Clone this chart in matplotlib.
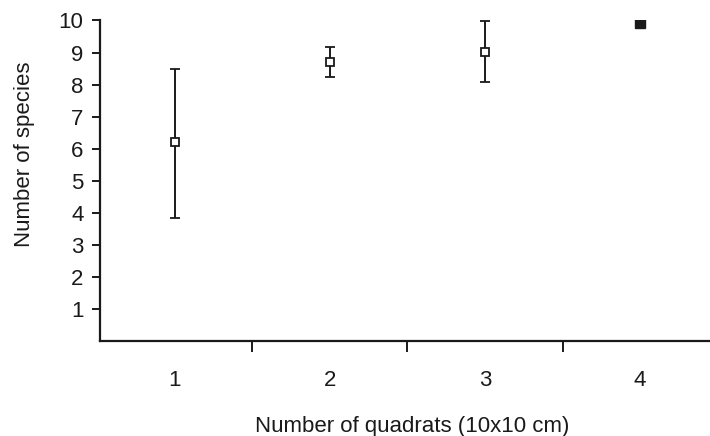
import matplotlib
matplotlib.use("Agg")
import matplotlib.pyplot as plt

# Данные
quadrats = [1, 2, 3, 4]
quadrat_labels = ["1", "2", "3", "4"]
species_mean = [6.2, 8.72, 9.02, 9.92]
species_low = [3.83, 8.24, 8.08, 9.92]
species_high = [8.5, 9.18, 9.98, 9.92]
y_ticks = [1, 2, 3, 4, 5, 6, 7, 8, 9, 10]

plt.rcParams['font.family'] = ['Liberation Sans', 'DejaVu Sans']
ink = '#1a1a1a'

fig = plt.figure(figsize=(7.10, 4.36), dpi=100)
ax = fig.add_axes([0.141, 0.218, 0.859, 0.735])

# Первые три точки - открытые квадраты с усами
for i in range(3):
    x = quadrats[i]
    m = species_mean[i]
    err = [[m - species_low[i]], [species_high[i] - m]]
    ax.errorbar([x], [m], yerr=err, fmt='s', color=ink, ecolor=ink,
                markerfacecolor='white', markeredgecolor=ink, markersize=6,
                markeredgewidth=1.3, elinewidth=1.4, capsize=3.3, capthick=2.9,
                zorder=3)

# Последняя точка - закрашенный квадрат без усов
ax.plot([quadrats[3]], [species_mean[3]], 's', color=ink, markersize=6.5, zorder=3)

ax.set_xlim(0.52, 4.45)
ax.set_ylim(0, 10)

ax.spines['top'].set_visible(False)
ax.spines['right'].set_visible(False)
ax.spines['left'].set_linewidth(1.6)
ax.spines['bottom'].set_linewidth(1.6)
ax.spines['left'].set_color(ink)
ax.spines['bottom'].set_color(ink)

# Подписи по X в точках данных, засечки между ними
ax.set_xticks(quadrats)
ax.set_xticklabels(quadrat_labels)
ax.set_xticks([1.5, 2.5, 3.5], minor=True)
ax.tick_params(axis='x', which='major', length=0, pad=21, labelsize=16, colors=ink)
ax.tick_params(axis='x', which='minor', length=8, width=1.4, direction='out', color=ink)

ax.set_yticks(y_ticks)
ax.tick_params(axis='y', which='major', length=6, width=1.4, pad=6, labelsize=16, colors=ink)

ax.set_xlabel("Number of quadrats (10x10 cm)", fontsize=16, color=ink)
ax.set_ylabel("Number of species", fontsize=16, color=ink)
ax.xaxis.set_label_coords(0.511, -0.235)
ax.yaxis.set_label_coords(-0.106, 0.583)

fig.savefig("out.png", dpi=100)
